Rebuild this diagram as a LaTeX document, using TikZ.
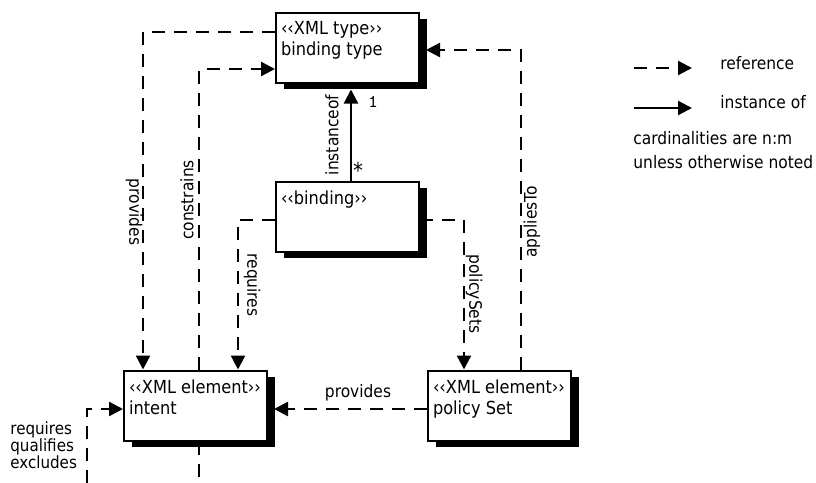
\documentclass[tikz,border=0pt]{standalone}
\usepackage{fontspec}
\setmainfont{DejaVu Sans Condensed}
\usetikzlibrary{positioning,arrows.meta,shadows}
\newcommand{\boxtext}[2]{\parbox[t][26pt][t]{66.5pt}{#1\\#2}}

\begin{document}
\begin{tikzpicture}[x=0.5pt, y=-0.5pt,
    umlbox/.style={rectangle, draw=black, line width=1pt, fill=white,
                   minimum width=71.5pt, minimum height=35pt,
                   inner xsep=2.5pt, inner ysep=4.5pt,
                   font=\fontsize{9}{10.5}\selectfont,
                   drop shadow={shadow xshift=3.75pt, shadow yshift=-3pt,
                                fill=black, opacity=1}},
    ref/.style={-{Triangle[length=7pt, width=7pt]}, line width=1.2pt,
                dash pattern=on 6.5pt off 4.5pt},
    inst/.style={-{Triangle[length=7pt, width=7pt]}, line width=1.2pt},
    lbl/.style={inner sep=0pt},
    every node/.style={font=\fontsize{8.6}{10.5}\selectfont}
]
    \useasboundingbox (0,0) rectangle (816,483);

    % boxes
    \node[umlbox] (bt) at (347.5,47.5) {\boxtext{‹‹XML type››}{binding type}};
    \node[umlbox] (bd) at (347.5,216.5) {\boxtext{‹‹binding››}{}};
    \node[umlbox] (in) at (195.5,405.5) {\boxtext{‹‹XML element››}{intent}};
    \node[umlbox] (ps) at (499.5,405.5) {\boxtext{‹‹XML element››}{policy Set}};

    % bend points
    \coordinate (pv) at (143,32);
    \coordinate (cs) at (199,69);
    \coordinate (rq) at (238,220);
    \coordinate (pl) at (464,220);
    \coordinate (ap) at (521,50);
    \coordinate (lp) at (87,409);
    \coordinate (lpa) at (87,483);
    \coordinate (lpb) at (199,483);

    % connectors
    \draw[inst] (bd.north -| 351,0) -- ([yshift=-3pt]bt.south -| 351,0);
    \draw[ref] (bt.west |- pv) -| (in.north -| pv);
    \draw[ref] (in.north -| cs) |- (bt.west |- cs);
    \draw[ref] (bd.west |- rq) -| (in.north -| rq);
    \draw[ref] (bd.east |- pl) -| (ps.north -| pl);
    \draw[ref] (ps.north -| ap) |- ([xshift=3pt]bt.east |- ap);
    \draw[ref] (ps.west |- lp) -- ([xshift=3pt]in.east |- lp);
    \draw[ref, -] (in.south -| lpb) -- (lpb);
    \draw[ref] (lpa) -- (lp) -- (in.west |- lp);

    % labels
    \node[lbl, rotate=90] (lio) at (332,135) {instanceof};
    \node[lbl, font=\fontsize{9}{9}\selectfont] (lone) at (373,102) {\texttt{1}};
    \node[lbl, font=\fontsize{11}{11}\selectfont] (lmany) at (358,170) {*};
    \node[lbl, rotate=-90] (lpv) at (134,212) {provides};
    \node[lbl, rotate=90] (lcs) at (187,200) {constrains};
    \node[lbl, rotate=-90] (lrq) at (252,285) {requires};
    \node[lbl, rotate=-90] (lpl) at (474,294) {policySets};
    \node[lbl, rotate=90] (lap) at (532,222) {appliesTo};
    \node[lbl] (lpv2) at (358,393) {provides};
    \node[lbl, anchor=west, align=left, font=\fontsize{8.4}{8.6}\selectfont]
        (lloop) at (10,445) {requires\\qualifies\\excludes};

    % legend
    \coordinate (ra) at (634,68);
    \coordinate (rb) at (692,68);
    \coordinate (ia) at (634,108);
    \coordinate (ib) at (692,108);
    \draw[ref] (ra) -- (rb);
    \draw[inst] (ia) -- (ib);
    \node[lbl, anchor=west, right=14pt of rb, yshift=2.5pt] (lref) {reference};
    \node[lbl, anchor=west, right=14pt of ib, yshift=3pt] (linst) {instance of};
    \node[lbl, anchor=north west, align=left, font=\fontsize{8.6}{12}\selectfont]
        (lcard) at (633,131) {cardinalities are n:m\\unless otherwise noted};
\end{tikzpicture}
\end{document}
